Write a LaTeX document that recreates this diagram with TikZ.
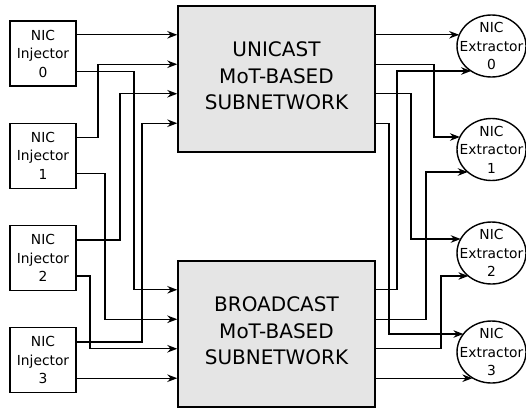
\documentclass[tikz,border=0pt]{standalone}
\usepackage{fontspec}
\setmainfont{DejaVu Sans}
\usetikzlibrary{calc,arrows.meta,shapes.geometric,positioning}
\definecolor{netgray}{gray}{0.9}
\tikzset{>={Stealth[length=10pt,width=7.5pt]}}

\begin{document}
\begin{tikzpicture}[x=1pt,y=-1pt,line width=1.4pt]
  \useasboundingbox (0,0) rectangle (526,407);
  \tikzstyle{injector}=[draw,rectangle,minimum width=66pt,minimum height=65pt,inner sep=0pt,align=center,font=\fontsize{13.8}{18.5}\selectfont]
  \tikzstyle{subnet}=[draw,rectangle,fill=netgray,minimum width=197pt,minimum height=146pt,inner sep=0pt,align=center,text depth=6pt,font=\fontsize{20}{26.5}\selectfont]
  \tikzstyle{extractor}=[draw,ellipse,minimum width=69pt,minimum height=62pt,inner sep=0pt]
  \tikzstyle{ext_text}=[align=center,inner sep=0pt,font=\fontsize{13.8}{18.5}\selectfont]
  \tikzstyle{link}=[->]
  \def \erx {34.5}
  \def \ery {31}

  % injectors
  \foreach \s in {0,...,3}
  {
    \node[injector] (inj\s) at (43,{53.5+102.2*\s}) {NIC\\Injector\\\s};
  }

  % subnetworks
  \node[subnet] (uni) at (276.5,79) {UNICAST\\MoT-BASED\\SUBNETWORK};
  \node[subnet] (bc) at (276.5,334) {BROADCAST\\MoT-BASED\\SUBNETWORK};
  \foreach \k in {1,...,4}
  {
    \coordinate (uin\k) at ($(uni.north west)!\k/5!(uni.south west)$);
    \coordinate (uout\k) at ($(uni.north east)!\k/5!(uni.south east)$);
    \coordinate (bin\k) at ($(bc.north west)!\k/5!(bc.south west)$);
    \coordinate (bout\k) at ($(bc.north east)!\k/5!(bc.south east)$);
  }

  % extractors
  \foreach \s/\y/\ya/\yb in {0/46/-10.8/25,1/149.5/-12.5/22.5,2/253/-14/23,3/352/-18/25.8}
  {
    \node[extractor] (ext\s) at (491.5,\y) {};
    \node[ext_text] (ext\s_text) at (ext\s) {NIC\\Extractor\\\s};
    \coordinate (ext\s_a) at ($(ext\s)+({-\erx*sqrt(1-(\ya/\ery)^2)},\ya)$);
    \coordinate (ext\s_b) at ($(ext\s)+({-\erx*sqrt(1-(\yb/\ery)^2)},\yb)$);
  }

  % wiring columns
  \coordinate (c1) at (90,0);
  \coordinate (c2) at (98,0);
  \coordinate (c3) at (105,0);
  \coordinate (c4) at (120,0);
  \coordinate (c5) at (134,0);
  \coordinate (c6) at (142,0);
  \coordinate (d1) at (389,0);
  \coordinate (d2) at (397,0);
  \coordinate (d3) at (411,0);
  \coordinate (d4) at (426,0);
  \coordinate (d5) at (434,0);
  \coordinate (d6) at (441,0);

  % injectors to subnetworks
  \draw[link] (uin1 -| inj0.east) -- (uin1);
  \draw[link] ([yshift=-18pt]inj0.east) -| (c5 |- bin1) -- (bin1);
  \draw[link] ([yshift=18pt]inj1.east) -| (c2 |- uin2) -- (uin2);
  \draw[link] ([yshift=-18pt]inj1.east) -| (c3 |- bin2) -- (bin2);
  \draw[link] ([yshift=18pt]inj2.east) -| (c4 |- uin3) -- (uin3);
  \draw[link] ([yshift=-18pt]inj2.east) -| (c1 |- bin3) -- (bin3);
  \draw[link] ([yshift=18pt]inj3.east) -| (c6 |- uin4) -- (uin4);
  \draw[link] (bin4 -| inj3.east) -- (bin4);

  % subnetworks to extractors
  \draw[link] (uout1) -- (uout1 -| ext0_a);
  \draw[link] (uout2) -| (d5 |- ext1_a) -- (ext1_a);
  \draw[link] (uout3) -| (d3 |- ext2_a) -- (ext2_a);
  \draw[link] (uout4) -| (d1 |- ext3_a) -- (ext3_a);
  \draw[link] (bout1) -| (d2 |- ext0_b) -- (ext0_b);
  \draw[link] (bout2) -| (d4 |- ext1_b) -- (ext1_b);
  \draw[link] (bout3) -| (d6 |- ext2_b) -- (ext2_b);
  \draw[link] (bout4) -- (bout4 -| ext3_b);
\end{tikzpicture}
\end{document}
